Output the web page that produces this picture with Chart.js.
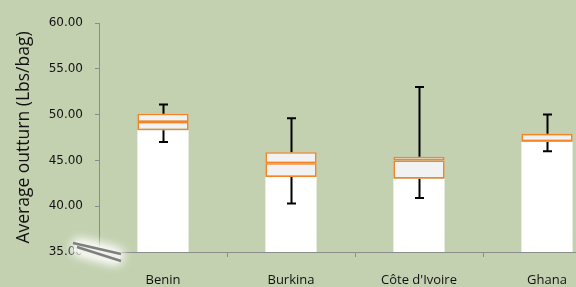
<!DOCTYPE html>
<html><head><meta charset="utf-8">
<script src="https://cdn.jsdelivr.net/npm/chart.js@4"></script>
<style>html,body{margin:0;padding:0;overflow:hidden;background:#c4d1b1;}#wrap{width:620px;height:287px;}</style>
</head><body><div id="wrap"><canvas id="c" width="620" height="287"></canvas></div>
<script>
const categories = ["Benin", "Burkina", "Côte d'Ivoire", "Ghana"];
const mins    = [47.0, 40.3, 40.9, 46.0];
const q1s     = [48.3, 43.2, 43.0, 47.0];
const medians = [49.2, 44.7, 45.0, 47.1];
const q3s     = [50.1, 45.9, 45.4, 47.9];
const maxs    = [51.1, 49.6, 53.0, 50.0];
const yTicks  = [35, 40, 45, 50, 55, 60];
const yMin = 35, yMax = 60;

const ORANGE = '#f58426';
const AXIS = '#8c8c8c';

const whiskerPlugin = {
  id: 'whiskers',
  afterDatasetDraw(chart, args) {
    if (chart.data.datasets[args.index].label !== 'base') return;
    const ctx = chart.ctx, x = chart.scales.x, y = chart.scales.y;
    ctx.save();
    ctx.strokeStyle = '#000';
    ctx.lineWidth = 2;
    categories.forEach((c, i) => {
      const cx = Math.round(x.getPixelForValue(i)) + 0.5;
      const yt = y.getPixelForValue(maxs[i]);
      const yb = y.getPixelForValue(mins[i]);
      const y3 = y.getPixelForValue(q3s[i]);
      const y1 = y.getPixelForValue(q1s[i]);
      ctx.beginPath();
      ctx.moveTo(cx, yt); ctx.lineTo(cx, y3);
      ctx.moveTo(cx, y1); ctx.lineTo(cx, yb);
      ctx.moveTo(cx - 4.5, yt); ctx.lineTo(cx + 4.5, yt);
      ctx.moveTo(cx - 4.5, yb); ctx.lineTo(cx + 4.5, yb);
      ctx.stroke();
    });
    ctx.restore();
  }
};

const breakPlugin = {
  id: 'axisBreak',
  afterDraw(chart) {
    const ctx = chart.ctx;
    const y0 = chart.scales.y.getPixelForValue(yMin);
    const x0 = chart.chartArea.left;
    ctx.save();
    ctx.shadowColor = 'rgba(255,255,255,1)';
    ctx.shadowBlur = 12;
    ctx.strokeStyle = 'rgba(238,242,232,0.85)';
    ctx.lineWidth = 11;
    for (let k = 0; k < 3; k++) {
      ctx.beginPath();
      ctx.moveTo(x0 - 24, y0 - 6); ctx.lineTo(x0 + 21, y0 + 5.5);
      ctx.stroke();
    }
    ctx.shadowBlur = 0;
    ctx.strokeStyle = '#7f7f7f';
    ctx.lineWidth = 2.5;
    ctx.beginPath();
    ctx.moveTo(x0 - 26, y0 - 9); ctx.lineTo(x0 + 22, y0 + 2);
    ctx.moveTo(x0 - 22, y0 - 5); ctx.lineTo(x0 + 22, y0 + 9);
    ctx.stroke();
    ctx.restore();
  }
};

new Chart(document.getElementById('c'), {
  type: 'bar',
  data: {
    labels: categories,
    datasets: [
      { label: 'base', data: q1s.map(v => [yMin, v]), backgroundColor: '#ffffff', borderWidth: 0, order: 3 },
      { label: 'lower', data: q1s.map((v, i) => [v, medians[i]]), backgroundColor: '#f2f2f2',
        borderColor: ORANGE, borderWidth: 1.6, borderSkipped: false, order: 2 },
      { label: 'upper', data: medians.map((v, i) => [v, q3s[i]]), backgroundColor: '#f2f2f2',
        borderColor: ORANGE, borderWidth: 1.6, borderSkipped: false, order: 1 }
    ]
  },
  options: {
    responsive: false,
    animation: false,
    devicePixelRatio: 1,
    barPercentage: 0.4,
    categoryPercentage: 1,
    layout: { padding: { left: 0, right: 9, top: 23, bottom: 0 } },
    plugins: { legend: { display: false }, tooltip: { enabled: false } },
    scales: {
      x: {
        stacked: true,
        grid: { display: true, drawOnChartArea: false, offset: true, tickLength: 5, color: AXIS },
        border: { color: AXIS, width: 1 },
        ticks: { color: '#111', font: { family: 'Open Sans', size: 13 }, padding: 15, maxRotation: 0 },
        afterFit: s => { s.height = 35; }
      },
      y: {
        stacked: false,
        min: yMin, max: yMax,
        afterBuildTicks: s => { s.ticks = yTicks.map(v => ({ value: v })); },
        afterFit: s => { s.width = 99; },
        grid: { display: true, drawOnChartArea: false, tickLength: 4, color: AXIS },
        border: { color: AXIS, width: 1 },
        ticks: { color: '#111', font: { family: 'DejaVu Sans', size: 12 }, padding: 12,
                 callback: v => Number(v).toFixed(2) },
        title: { display: true, text: 'Average outturn (Lbs/bag)', color: '#111',
                 font: { family: 'Open Sans', size: 17.5 }, padding: { top: 14, bottom: 0 } }
      }
    }
  },
  plugins: [whiskerPlugin, breakPlugin]
});
</script>
</body></html>
